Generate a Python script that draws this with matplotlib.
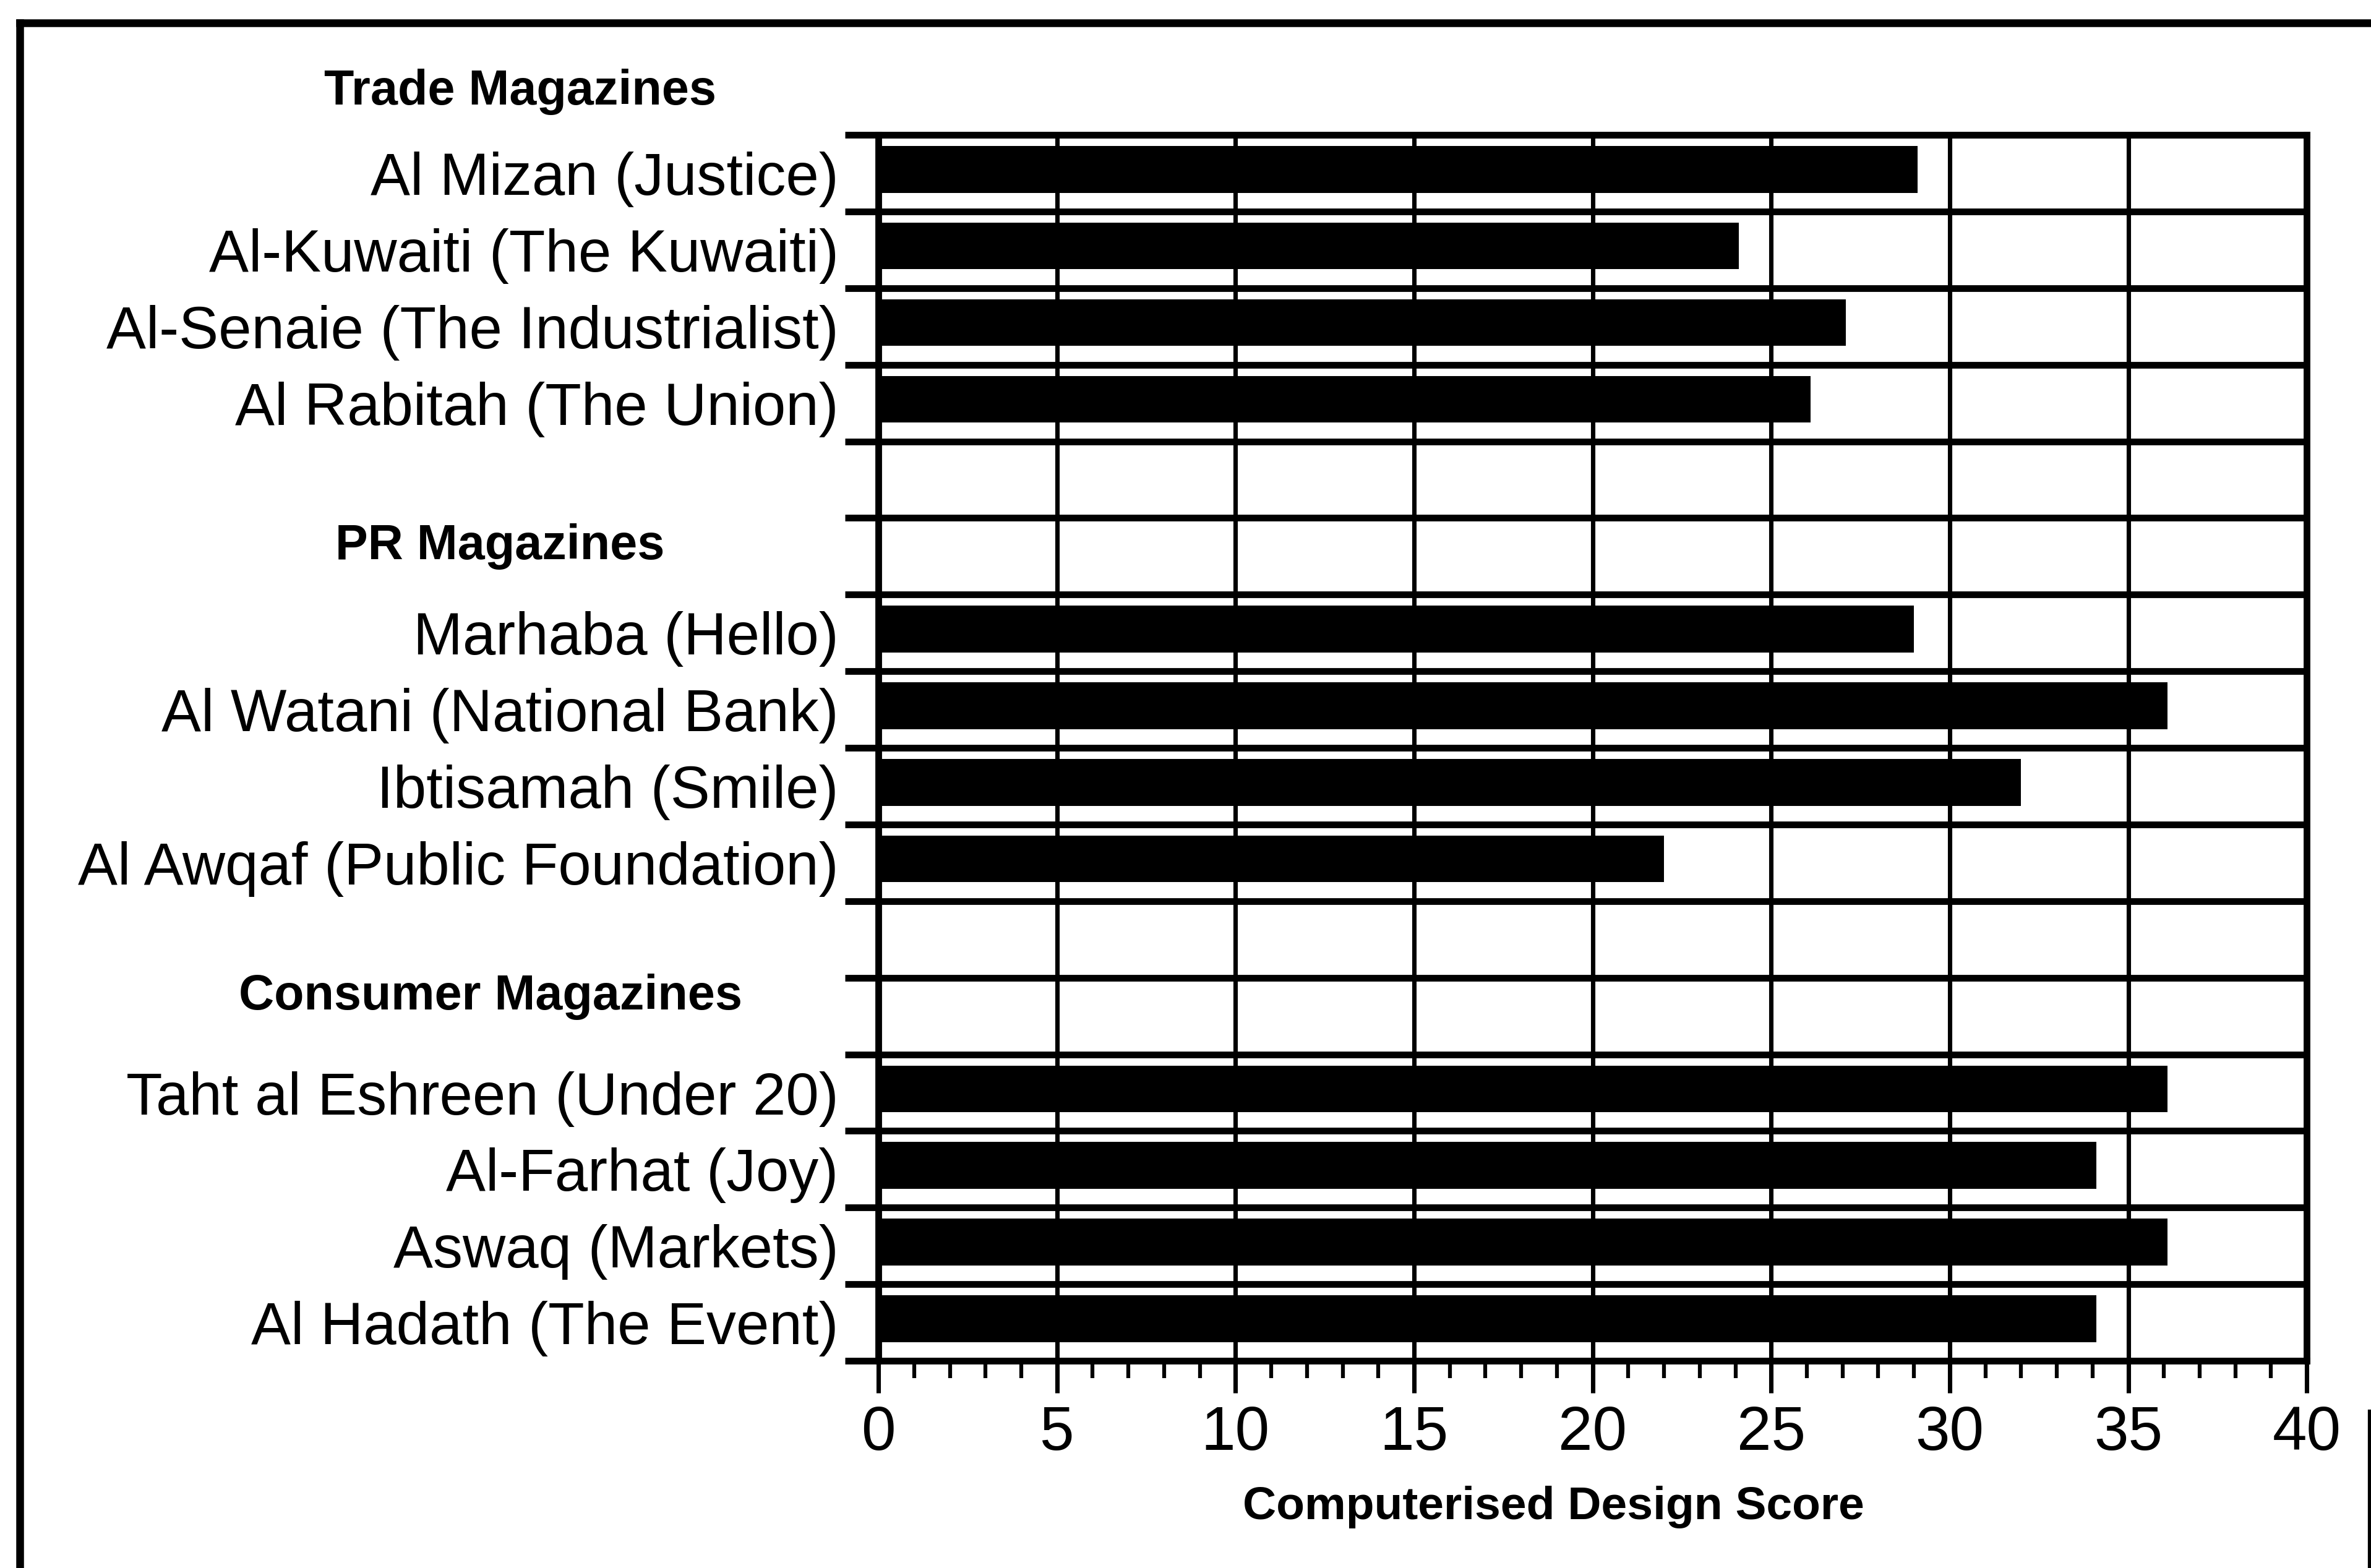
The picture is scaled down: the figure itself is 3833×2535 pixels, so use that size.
import numpy as np
import matplotlib.pyplot as plt
from matplotlib.transforms import blended_transform_factory
from matplotlib.lines import Line2D

plt.rcParams['font.family'] = ['Liberation Sans', 'DejaVu Sans']

# data (Computerised Design Score)
group_titles = ['Trade Magazines', 'PR Magazines', 'Consumer Magazines']
trade_names = ['Al Mizan (Justice)', 'Al-Kuwaiti (The Kuwaiti)',
               'Al-Senaie (The Industrialist)', 'Al Rabitah (The Union)']
trade_scores = [29.1, 24.1, 27.1, 26.1]
pr_names = ['Marhaba (Hello)', 'Al Watani (National Bank)',
            'Ibtisamah (Smile)', 'Al Awqaf (Public Foundation)']
pr_scores = [29.0, 36.1, 32.0, 22.0]
consumer_names = ['Taht al Eshreen (Under 20)', 'Al-Farhat (Joy)',
                  'Aswaq (Markets)', 'Al Hadath (The Event)']
consumer_scores = [36.1, 34.1, 36.1, 34.1]
x_ticks = [0, 5, 10, 15, 20, 25, 30, 35, 40]
x_label = 'Computerised Design Score'

groups = [(trade_names, trade_scores), (pr_names, pr_scores),
          (consumer_names, consumer_scores)]

# each group: one header slot, then its rows, then a blank slot
rows, names, scores, header_rows = [], [], [], []
start = 0
for g_names, g_scores in groups:
    header_rows.append(start - 1)
    for i, (n, s) in enumerate(zip(g_names, g_scores)):
        rows.append(start + i)
        names.append(n)
        scores.append(s)
    start += len(g_names) + 2
rows = np.array(rows)
n_slots = rows.max() + 1

fig = plt.figure(figsize=(3833 / 300, 2535 / 300), dpi=300)
ax = fig.add_axes([0.3705, 0.1321, 0.6024, 0.7819])

ax.barh(rows - 0.05, scores, height=0.61, color='black', zorder=3)

ax.set_xlim(0, 40)
ax.set_ylim(n_slots - 0.5, -0.5)

# x axis: labelled ticks every 5, small ticks every 1
ax.set_xticks(x_ticks)
ax.set_xticks(np.arange(0, 41, 1), minor=True)
ax.tick_params(axis='x', which='major', direction='out', length=12.5,
               width=1.7, pad=4.5, labelsize=24, colors='black')
ax.tick_params(axis='x', which='minor', direction='out', length=6.7,
               width=1.5)

# y axis: ticks and grid on slot boundaries, names at slot centres
ax.set_yticks(np.arange(-0.5, n_slots, 1))
ax.set_yticklabels([])
ax.set_yticks(rows, names, minor=True)
ax.tick_params(axis='y', which='major', direction='out', length=13,
               width=2.6)
ax.tick_params(axis='y', which='minor', length=0, pad=15.5, labelsize=23)

ax.set_axisbelow(True)
ax.grid(axis='y', which='major', color='black', linewidth=2.6)
ax.grid(axis='x', which='major', color='black', linewidth=1.7)
for sp in ax.spines.values():
    sp.set_linewidth(2.6)

trans = blended_transform_factory(fig.transFigure, ax.transData)
header_x = [0.2195, 0.2108, 0.2069]
header_dy = [-0.06, -0.13, -0.25]
for title, hr, hx, dy in zip(group_titles, header_rows, header_x, header_dy):
    ax.text(hx, hr + dy, title, transform=trans, ha='center', va='center',
            fontsize=19, fontweight='bold', clip_on=False)

ax.set_xlabel(x_label, fontsize=18, fontweight='bold')
ax.xaxis.label.set_va('baseline')
ax.xaxis.set_label_coords(0.4725, -0.1290)

# outer frame of the scanned figure
fig.add_artist(Line2D([0.0083, 1.0], [0.9854, 0.9854], color='black',
                      linewidth=3, transform=fig.transFigure))
fig.add_artist(Line2D([0.0083, 0.0083], [0.9854, 0.0], color='black',
                      linewidth=3, transform=fig.transFigure))
fig.add_artist(Line2D([0.9995, 0.9995], [0.1, 0.0], color='black',
                      linewidth=1.5, transform=fig.transFigure))

fig.savefig('out.png', dpi=300, facecolor='white')
